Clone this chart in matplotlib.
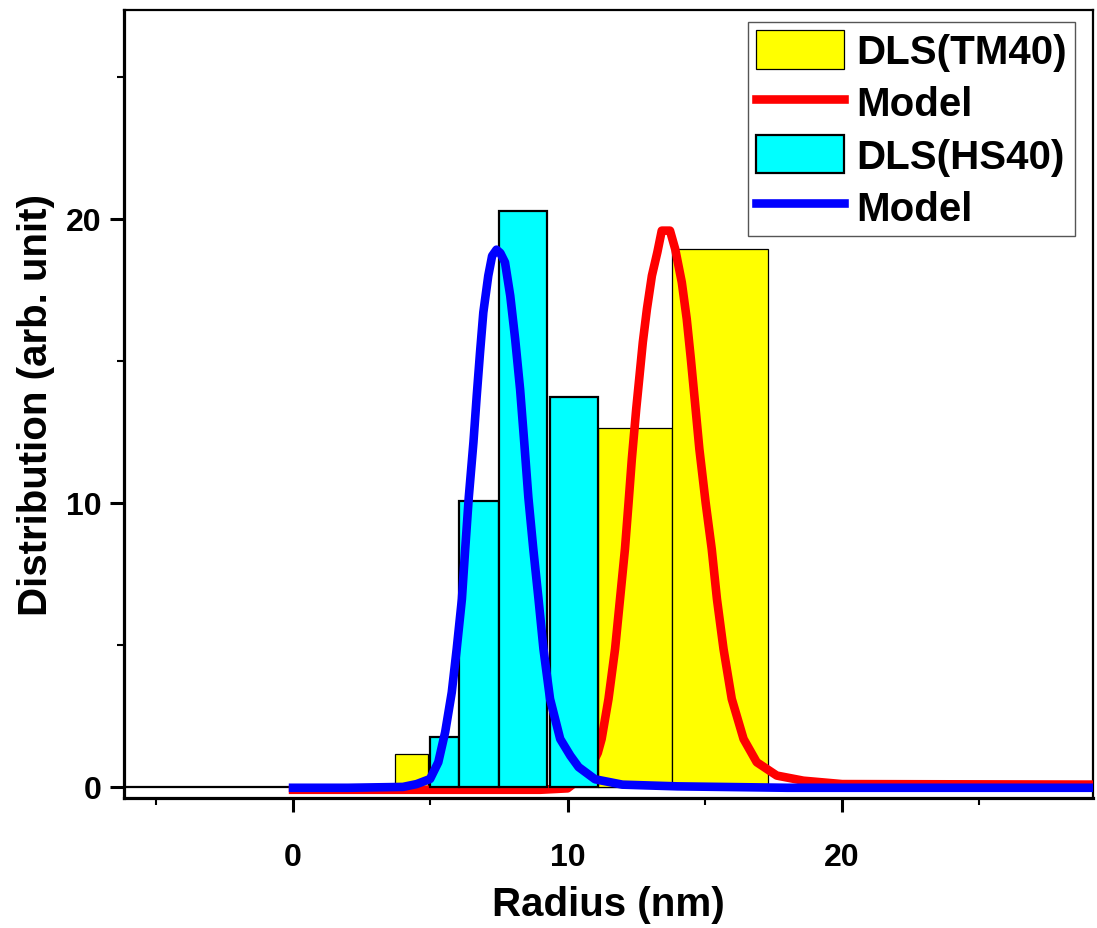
import numpy as np
import matplotlib
matplotlib.use('Agg')
import matplotlib.pyplot as plt
from matplotlib.ticker import MultipleLocator

plt.rcParams['font.family'] = ['Liberation Sans', 'DejaVu Sans']
plt.rcParams['font.weight'] = 'bold'

# DLS histogram (TM40), bar edges and heights
tm_left = [3.72, 11.11, 13.81]
tm_right = [4.92, 13.81, 17.30]
tm_height = [1.15, 12.64, 18.94]

# DLS histogram (HS40)
hs_left = [4.97, 6.05, 7.49, 9.35]
hs_right = [6.05, 7.49, 9.25, 11.11]
hs_height = [1.76, 10.06, 20.27, 13.73]

# model curve TM40 (red)
tm_model_x = [0.0, 9.0, 10.0, 10.4, 10.8, 11.1, 11.24, 11.49, 11.73, 11.91, 12.09, 12.22,
              12.34, 12.5, 12.62, 12.74, 12.89, 13.07, 13.27, 13.43, 13.73, 13.92, 14.16,
              14.34, 14.49, 14.64, 14.8, 15.03, 15.25, 15.44, 15.68, 15.98, 16.41, 16.89,
              17.62, 18.59, 20.0, 30.0]
tm_model_y = [-0.1, -0.1, -0.05, 0.25, 0.6, 1.2, 1.69, 3.1, 4.86, 6.62, 8.38, 10.0,
              11.55, 13.31, 14.48, 15.66, 16.83, 18.0, 18.83, 19.59, 19.59, 18.94, 17.77,
              16.48, 15.07, 13.55, 11.9, 10.0, 8.38, 6.62, 4.86, 3.1, 1.69, 0.87,
              0.4, 0.22, 0.1, 0.08]

# model curve HS40 (blue)
hs_model_x = [0.0, 2.0, 4.0, 4.5, 4.99, 5.29, 5.54, 5.78, 5.96, 6.15, 6.27, 6.40, 6.57,
              6.69, 6.81, 6.93, 7.11, 7.25, 7.41, 7.55, 7.72, 7.91, 8.09, 8.27, 8.42,
              8.57, 8.75, 8.94, 9.12, 9.36, 9.73, 10.1, 10.4, 11.0, 12.0, 14.0, 18.0, 30.0]
hs_model_y = [-0.03, -0.03, 0.0, 0.1, 0.28, 0.87, 1.93, 3.33, 4.86, 6.62, 8.38, 10.2, 12.14,
              13.78, 15.3, 16.71, 18.0, 18.7, 18.92, 18.8, 18.47, 17.3, 15.77, 14.0, 12.14,
              10.2, 8.38, 6.62, 4.86, 3.1, 1.69, 1.1, 0.7, 0.27, 0.08, 0.02, -0.03, -0.03]

fig = plt.figure(figsize=(10.97, 9.29), dpi=100)
ax = fig.add_axes([124 / 1097, 1 - 799 / 929, (1093 - 124) / 1097, (799 - 11) / 929])

# zero line
ax.axhline(0, color='black', lw=1.6, zorder=1)

tm_w = np.array(tm_right) - np.array(tm_left)
hs_w = np.array(hs_right) - np.array(hs_left)

b1 = ax.bar(tm_left, tm_height, width=tm_w, align='edge', color='#FFFF00',
            edgecolor='black', linewidth=0.9, zorder=2)
l1, = ax.plot(tm_model_x, tm_model_y, color='#FF0000', lw=6.2, zorder=3,
              solid_joinstyle='round')
b2 = ax.bar(hs_left, hs_height, width=hs_w, align='edge', color='#00FFFF',
            edgecolor='black', linewidth=1.6, zorder=4)
l2, = ax.plot(hs_model_x, hs_model_y, color='#0000FF', lw=6.2, zorder=5,
              solid_joinstyle='round')

ax.set_xlim(-6.16, 29.14)
ax.set_ylim(-0.39, 27.36)

ax.xaxis.set_major_locator(MultipleLocator(10))
ax.xaxis.set_minor_locator(MultipleLocator(5))
ax.yaxis.set_major_locator(MultipleLocator(10))
ax.yaxis.set_minor_locator(MultipleLocator(5))

ax.tick_params(which='major', direction='out', length=10, width=2.2, labelsize=23)
ax.tick_params(which='minor', direction='out', length=5, width=1.5)
ax.tick_params(axis='x', which='major', pad=22)
ax.tick_params(axis='y', which='major', pad=6)
for lab in ax.get_xticklabels() + ax.get_yticklabels():
    lab.set_fontweight('bold')

for side in ['left', 'bottom']:
    ax.spines[side].set_linewidth(2.3)
for side in ['top', 'right']:
    ax.spines[side].set_linewidth(1.6)

ax.set_xlabel('Radius (nm)', fontsize=29, fontweight='bold', labelpad=9)
ax.set_ylabel('Distribution (arb. unit)', fontsize=29, fontweight='bold', labelpad=8)

leg = ax.legend([b1, l1, b2, l2], ['DLS(TM40)', 'Model', 'DLS(HS40)', 'Model'],
                loc='upper right', bbox_to_anchor=(1075 / 1097, 1 - 23 / 929),
                bbox_transform=fig.transFigure, borderaxespad=0, fontsize=29,
                handlelength=2.2, handleheight=1.1, handletextpad=0.3,
                labelspacing=0.28, borderpad=0.2, fancybox=False, framealpha=1)
leg.get_frame().set_edgecolor('#555555')
leg.get_frame().set_linewidth(1.0)
for t in leg.get_texts():
    t.set_fontweight('bold')

plt.savefig('out.png', dpi=100)
